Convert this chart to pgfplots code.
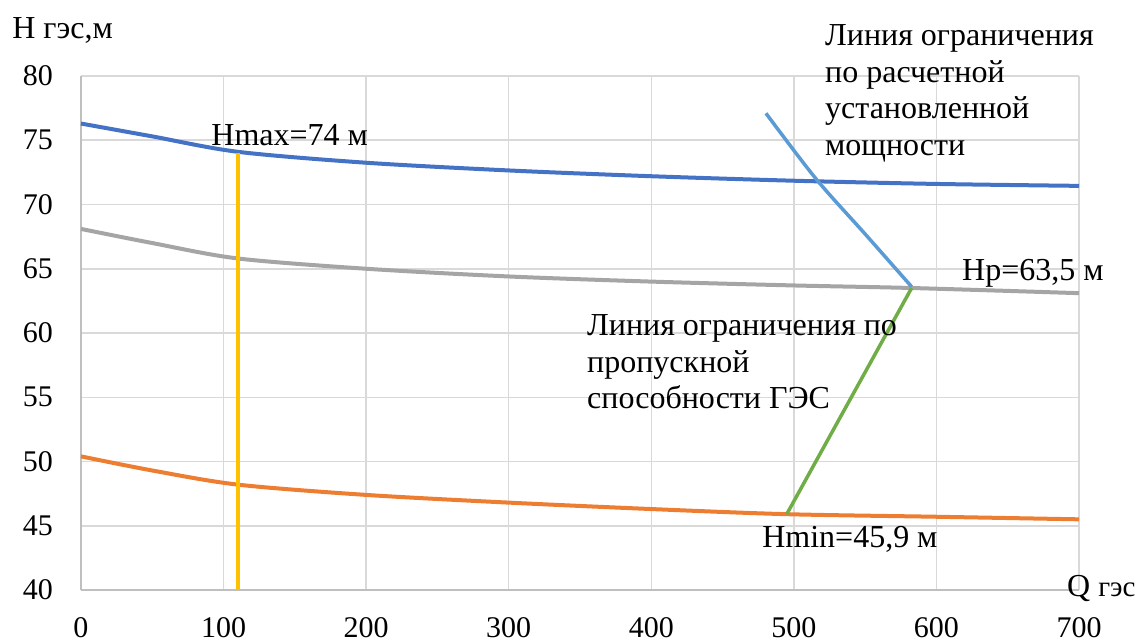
\documentclass[border=0pt]{standalone}
\usepackage{pgfplots}
\pgfplotsset{compat=1.18}
\usepackage{fontspec}
\setmainfont{Liberation Serif}
\definecolor{cBlue}{HTML}{4472C4}
\definecolor{cGray}{HTML}{A5A5A5}
\definecolor{cOrange}{HTML}{ED7D31}
\definecolor{cYellow}{HTML}{FFC000}
\definecolor{cLBlue}{HTML}{5B9BD5}
\definecolor{cGreen}{HTML}{70AD47}
\definecolor{cGrid}{HTML}{D9D9D9}
\definecolor{cAxis}{HTML}{BFBFBF}
\begin{document}
\begin{tikzpicture}
\fontsize{16pt}{19pt}\selectfont
\begin{axis}[
  scale only axis,
  width=499pt, height=257pt,
  xmin=0, xmax=700, ymin=40, ymax=80,
  xtick={0,100,...,700}, ytick={40,45,...,80},
  grid=major,
  major grid style={cGrid, line width=0.75pt},
  axis line style={cAxis, line width=0.75pt},
  axis x line*=bottom, axis y line*=left,
  x axis line style={-}, y axis line style={-},
  tick style={draw=none},
  /pgf/number format/assume math mode=true,
  ticklabel style={font=\fontsize{15pt}{18pt}\selectfont},
  xticklabel style={inner sep=0pt, text depth=0pt, anchor=north, yshift=-13.5pt},
  yticklabel style={xshift=-8.5pt},
  clip=false,
]
\addplot[cBlue, line width=2pt, smooth, tension=0.5] coordinates {
 (0,76.3) (50,75.3) (110,74.1) (200,73.25) (300,72.65) (400,72.2) (500,71.85) (600,71.6) (700,71.45)};
\addplot[cGray, line width=2pt, smooth, tension=0.5] coordinates {
 (0,68.1) (50,67.0) (110,65.8) (200,65.0) (300,64.4) (400,64.0) (500,63.7) (583,63.5) (700,63.1)};
\addplot[cOrange, line width=2pt, smooth, tension=0.5] coordinates {
 (0,50.4) (50,49.3) (110,48.2) (200,47.4) (300,46.8) (400,46.3) (495,45.9) (600,45.7) (700,45.5)};
\addplot[cYellow, line width=1.75pt] coordinates {(110,40) (110,74)};
\addplot[cLBlue, line width=1.75pt, smooth, tension=0.5] coordinates {
 (480.4,77.1) (515.5,72.0) (550,67.7) (582.6,63.6)};
\addplot[cGreen, line width=1.75pt] coordinates {(495,45.9) (582.6,63.5)};

\node[anchor=base west, inner sep=0pt] at (axis cs:91.2,74.63) {Hmax=74 м};
\node[anchor=base west, inner sep=0pt] at (axis cs:617.8,64.1) {Hp=63,5 м};
\node[anchor=base west, inner sep=0pt] at (axis cs:477.6,43.27) {Hmin=45,9 м};
\node[anchor=base west, inner sep=0pt] at (axis cs:691.4,39.48) {Q {\fontsize{14.5pt}{17pt}\selectfont гэс}};
\node[anchor=base west, inner sep=0pt] at (axis cs:-48.4,82.9) {H гэс,м};
\node[anchor=base west, inner sep=0pt] at (axis cs:521.7,82.41) {Линия ограничения};
\node[anchor=base west, inner sep=0pt] at (axis cs:521.7,79.53) {по расчетной};
\node[anchor=base west, inner sep=0pt] at (axis cs:521.7,76.73) {установленной};
\node[anchor=base west, inner sep=0pt] at (axis cs:521.7,73.85) {мощности};
\node[anchor=base west, inner sep=0pt] at (axis cs:354.8,59.84) {Линия ограничения по};
\node[anchor=base west, inner sep=0pt] at (axis cs:354.8,56.96) {пропускной};
\node[anchor=base west, inner sep=0pt] at (axis cs:354.8,54.16) {способности ГЭС};
\coordinate (SW) at (rel axis cs:0,0);
\coordinate (NE) at (rel axis cs:1,1);
\end{axis}
\pgfresetboundingbox
\path[use as bounding box] ([shift={(-40.5pt,-25.5pt)}]SW) rectangle ([shift={(31pt,38pt)}]NE);
\end{tikzpicture}
\end{document}
